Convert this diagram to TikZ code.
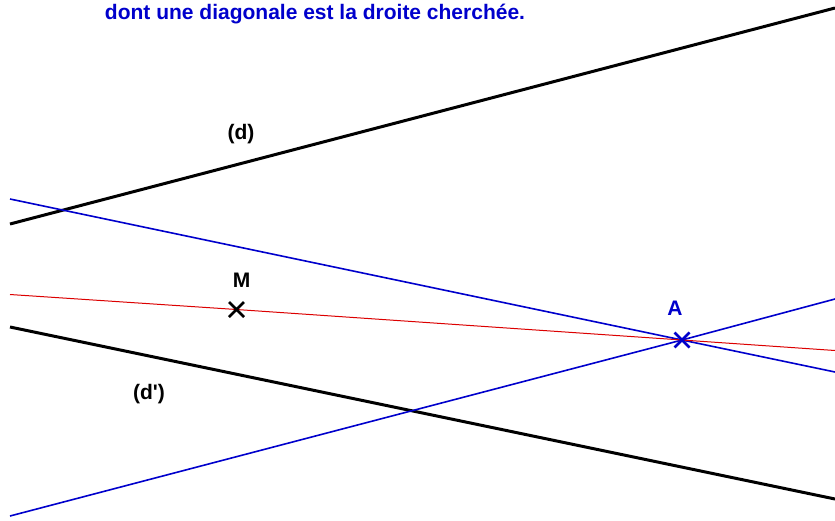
\documentclass[tikz,border=0pt]{standalone}
\usepackage{fontspec}
\setmainfont{Liberation Sans}
\newfontfamily\plainsans{Liberation Sans}
\usetikzlibrary{calc}
\definecolor{myblue}{RGB}{0,0,204}
\definecolor{myred}{RGB}{220,0,0}
\begin{document}
\begin{tikzpicture}[x=1pt,y=-1pt,
  thickline/.style={line width=3pt,black},
  blueline/.style={line width=1.6pt,myblue},
  redline/.style={line width=1pt,myred},
  crossmark/.style={line width=2.8pt},
  lbl/.style={font=\plainsans\fontsize{21}{21}\selectfont\bfseries,anchor=base,inner sep=0pt}]
\useasboundingbox (0,0) rectangle (835,520);
\fill[white] (0,0) rectangle (835,520);
% points
\coordinate (M) at (236.5,309.5);
\coordinate (A) at (682,340);
% line (d)
\coordinate (d1) at (10,224);
\coordinate (d2) at (835,8);
\draw[thickline] (d1) -- (d2);
% line (d')
\coordinate (dp1) at (10,327);
\coordinate (dp2) at (835,499);
\draw[thickline] (dp1) -- (dp2);
% blue lines through A
\coordinate (b1) at (10,199);
\coordinate (b2) at (835,372);
\draw[blueline] (b1) -- (A) -- (b2);
\coordinate (c1) at (10,516);
\coordinate (c2) at (835,299);
\draw[blueline] (c1) -- (A) -- (c2);
% red line through M and A
\coordinate (r1) at (10,294.5);
\coordinate (r2) at (835,350.5);
\draw[redline] (r1) -- (M) -- (A) -- (r2);
% crosses
\draw[crossmark,black] ($(M)+(-7.5,-7.5)$) -- ($(M)+(7.5,7.5)$) ($(M)+(-7.5,7.5)$) -- ($(M)+(7.5,-7.5)$);
\draw[crossmark,myblue] ($(A)+(-7.5,-7.5)$) -- ($(A)+(7.5,7.5)$) ($(A)+(-7.5,7.5)$) -- ($(A)+(7.5,-7.5)$);
% labels
\node[lbl] (lM) at (241.5,287) {M};
\node[lbl,myblue] (lA) at (675,315) {A};
\node[lbl] (ld) at (241,139) {(d)};
\node[lbl] (ldp) at (149,399) {(d')};
\node[font=\fontsize{21}{21}\selectfont\bfseries,anchor=base,inner sep=0pt,text=myblue] (title) at (315,19) {dont une diagonale est la droite cherchée.};
\end{tikzpicture}
\end{document}
